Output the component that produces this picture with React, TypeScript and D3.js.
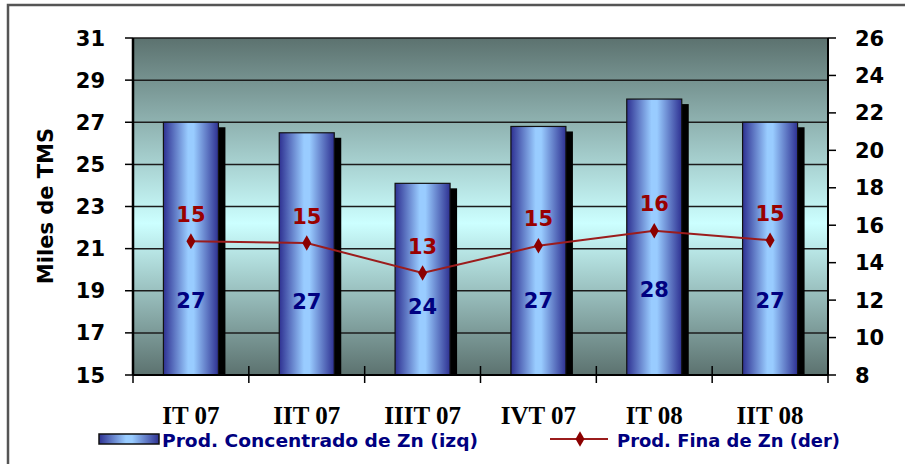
import React, { useEffect, useRef } from 'react';
import * as d3 from 'd3';

const categories = ['IT 07', 'IIT 07', 'IIIT 07', 'IVT 07', 'IT 08', 'IIT 08'];
const concentrado = [27.0, 26.5, 24.1, 26.8, 28.1, 27.0];
const concentradoLabels = ['27', '27', '24', '27', '28', '27'];
const fina = [15.15, 15.05, 13.45, 14.9, 15.7, 15.2];
const finaLabels = ['15', '15', '13', '15', '16', '15'];
const leftTicks = [15, 17, 19, 21, 23, 25, 27, 29, 31];
const rightTicks = [8, 10, 12, 14, 16, 18, 20, 22, 24, 26];

const App: React.FC = () => {
  const ref = useRef<SVGSVGElement | null>(null);

  useEffect(() => {
    const width = 905;
    const height = 464;
    const left = 133, right = 828, top = 38, bottom = 375;
    const sans = '"DejaVu Sans", Verdana, sans-serif';

    const svg = d3.select(ref.current)
      .attr('width', width)
      .attr('height', height)
      .style('display', 'block')
      .style('position', 'absolute')
      .style('left', '0px')
      .style('top', '0px')
      .style('background', '#ffffff');
    svg.selectAll('*').remove();

    const defs = svg.append('defs');
    const bg = defs.append('linearGradient').attr('id', 'bg')
      .attr('x1', 0).attr('y1', 0).attr('x2', 0).attr('y2', 1);
    bg.append('stop').attr('offset', '0%').attr('stop-color', '#5c726f');
    bg.append('stop').attr('offset', '55%').attr('stop-color', '#ccffff');
    bg.append('stop').attr('offset', '100%').attr('stop-color', '#5c726f');

    const barGrad = defs.append('linearGradient').attr('id', 'barGrad')
      .attr('x1', 0).attr('y1', 0).attr('x2', 1).attr('y2', 0);
    barGrad.append('stop').attr('offset', '0%').attr('stop-color', '#2e3192');
    barGrad.append('stop').attr('offset', '45%').attr('stop-color', '#99ccff');
    barGrad.append('stop').attr('offset', '55%').attr('stop-color', '#99ccff');
    barGrad.append('stop').attr('offset', '100%').attr('stop-color', '#2e3192');

    // outer frame (only top and left edges are visible)
    svg.append('path')
      .attr('d', `M8,${height} V5 H${width}`)
      .attr('fill', 'none')
      .attr('stroke', '#555')
      .attr('stroke-width', 2.5);

    const x = d3.scaleBand<string>().domain(categories).range([left, right]);
    const yL = d3.scaleLinear().domain([15, 31]).range([bottom, top]);
    const yR = d3.scaleLinear().domain([8, 26]).range([bottom, top]);
    const barW = 55;

    svg.append('rect')
      .attr('x', left).attr('y', top)
      .attr('width', right - left).attr('height', bottom - top)
      .attr('fill', 'url(#bg)');

    svg.append('g').selectAll('line')
      .data(leftTicks)
      .join('line')
        .attr('x1', left).attr('x2', right)
        .attr('y1', d => yL(d)).attr('y2', d => yL(d))
        .attr('stroke', '#1c1c1c')
        .attr('stroke-width', 1.5);

    // bars with shadow
    const bars = svg.append('g').selectAll('g')
      .data(categories)
      .join('g')
        .attr('transform', d => `translate(${x(d)! + x.bandwidth() / 2 - barW / 2},0)`);

    bars.append('rect')
      .attr('x', 7)
      .attr('y', (d, i) => yL(concentrado[i]) + 5)
      .attr('width', barW)
      .attr('height', (d, i) => bottom - yL(concentrado[i]) - 5)
      .attr('fill', '#000');

    bars.append('rect')
      .attr('x', 0)
      .attr('y', (d, i) => yL(concentrado[i]))
      .attr('width', barW)
      .attr('height', (d, i) => bottom - yL(concentrado[i]))
      .attr('fill', 'url(#barGrad)')
      .attr('stroke', '#111')
      .attr('stroke-width', 1.2);

    bars.append('text')
      .attr('x', barW / 2)
      .attr('y', (d, i) => 300 + (yL(concentrado[i]) - yL(27)) * 0.1 - (concentrado[i] > 28 ? 8 : 0))
      .attr('dy', '0.36em')
      .attr('text-anchor', 'middle')
      .attr('fill', '#000080')
      .style('font-family', sans)
      .style('font-weight', 'bold')
      .style('font-size', '21px')
      .text((d, i) => concentradoLabels[i]);

    // axes
    const axisG = svg.append('g').attr('stroke', '#000');
    axisG.append('line')
      .attr('x1', left).attr('x2', left).attr('y1', top).attr('y2', bottom)
      .attr('stroke-width', 2.5);
    axisG.append('line')
      .attr('x1', right).attr('x2', right).attr('y1', top).attr('y2', bottom)
      .attr('stroke-width', 2);
    axisG.append('line')
      .attr('x1', left).attr('x2', right).attr('y1', bottom).attr('y2', bottom)
      .attr('stroke-width', 2);
    axisG.selectAll('.tl')
      .data(leftTicks)
      .join('line')
        .attr('class', 'tl')
        .attr('x1', left - 8).attr('x2', left)
        .attr('y1', d => yL(d)).attr('y2', d => yL(d))
        .attr('stroke-width', 1.5);
    axisG.selectAll('.tr')
      .data(rightTicks)
      .join('line')
        .attr('class', 'tr')
        .attr('x1', right).attr('x2', right + 8)
        .attr('y1', d => yR(d)).attr('y2', d => yR(d))
        .attr('stroke-width', 1.5);
    axisG.selectAll('.tc')
      .data(d3.range(categories.length + 1))
      .join('line')
        .attr('class', 'tc')
        .attr('x1', i => left + i * x.step()).attr('x2', i => left + i * x.step())
        .attr('y1', bottom - 9).attr('y2', bottom + 8)
        .attr('stroke-width', 1.5);

    svg.append('g').selectAll('text')
      .data(leftTicks)
      .join('text')
        .attr('x', 105)
        .attr('y', d => yL(d))
        .attr('dy', '0.36em')
        .attr('text-anchor', 'end')
        .style('font-family', sans)
        .style('font-weight', 'bold')
        .style('font-size', '21px')
        .text(d => d);

    svg.append('g').selectAll('text')
      .data(rightTicks)
      .join('text')
        .attr('x', 855)
        .attr('y', d => yR(d))
        .attr('dy', '0.36em')
        .attr('text-anchor', 'start')
        .style('font-family', sans)
        .style('font-weight', 'bold')
        .style('font-size', '21px')
        .text(d => d);

    svg.append('text')
      .attr('transform', 'translate(45,206) rotate(-90)')
      .attr('text-anchor', 'middle')
      .attr('dy', '0.36em')
      .style('font-family', sans)
      .style('font-weight', 'bold')
      .style('font-size', '21px')
      .text('Miles de TMS');

    svg.append('g').selectAll('text')
      .data(categories)
      .join('text')
        .attr('x', d => x(d)! + x.bandwidth() / 2)
        .attr('y', 424)
        .attr('text-anchor', 'middle')
        .style('font-family', '"Liberation Serif", "Times New Roman", serif')
        .style('font-weight', 'bold')
        .style('font-size', '25px')
        .text(d => d);

    // line series
    const line = d3.line<number>()
      .x((d, i) => x(categories[i])! + x.bandwidth() / 2)
      .y(d => yR(d));

    svg.append('path')
      .datum(fina)
      .attr('d', line)
      .attr('fill', 'none')
      .attr('stroke', '#9b1c1c')
      .attr('stroke-width', 2);

    const diamond = d3.symbol().type(d3.symbolDiamond).size(70);
    svg.append('g').selectAll('path')
      .data(fina)
      .join('path')
        .attr('transform', (d, i) => `translate(${x(categories[i])! + x.bandwidth() / 2},${yR(d)})`)
        .attr('d', diamond)
        .attr('fill', '#8b0000');

    svg.append('g').selectAll('text')
      .data(fina)
      .join('text')
        .attr('x', (d, i) => x(categories[i])! + x.bandwidth() / 2)
        .attr('y', d => yR(d) - 27)
        .attr('dy', '0.36em')
        .attr('text-anchor', 'middle')
        .attr('fill', '#990000')
        .style('font-family', sans)
        .style('font-weight', 'bold')
        .style('font-size', '21px')
        .text((d, i) => finaLabels[i]);

    // legend
    const legend = svg.append('g');
    legend.append('rect')
      .attr('x', 99).attr('y', 434).attr('width', 60).attr('height', 10)
      .attr('fill', 'url(#barGrad)')
      .attr('stroke', '#111').attr('stroke-width', 1.5);
    legend.append('text')
      .attr('x', 162).attr('y', 447)
      .attr('fill', '#000080')
      .attr('textLength', 316)
      .attr('lengthAdjust', 'spacingAndGlyphs')
      .style('font-family', sans)
      .style('font-weight', 'bold')
      .style('font-size', '18px')
      .text('Prod. Concentrado de Zn (izq)');
    legend.append('line')
      .attr('x1', 550).attr('x2', 608).attr('y1', 439).attr('y2', 439)
      .attr('stroke', '#9b1c1c').attr('stroke-width', 2);
    legend.append('path')
      .attr('transform', 'translate(580,439)')
      .attr('d', diamond)
      .attr('fill', '#8b0000');
    legend.append('text')
      .attr('x', 617).attr('y', 447)
      .attr('fill', '#000080')
      .attr('textLength', 223)
      .attr('lengthAdjust', 'spacingAndGlyphs')
      .style('font-family', sans)
      .style('font-weight', 'bold')
      .style('font-size', '18px')
      .text('Prod. Fina de Zn (der)');
  }, []);

  return (
    <svg ref={ref}></svg>
  );
};

export default App;
